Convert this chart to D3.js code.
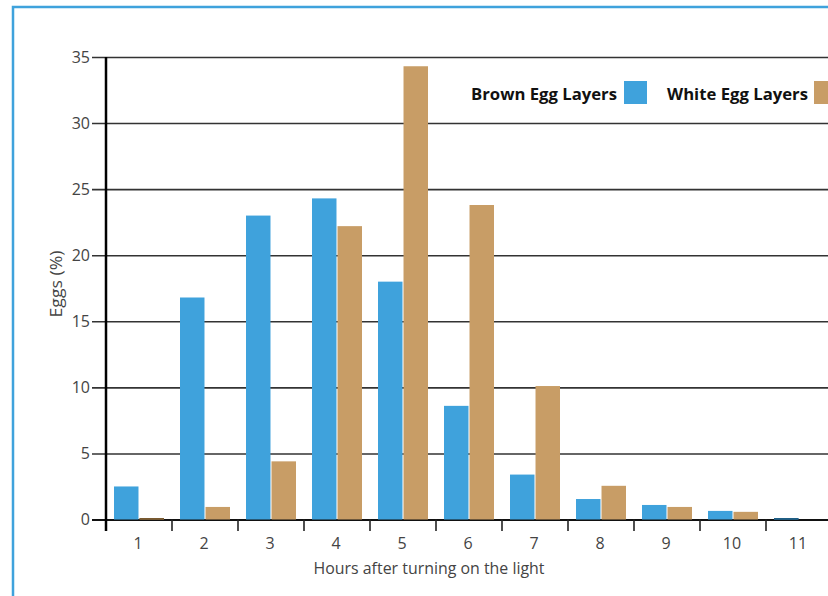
<!DOCTYPE html>
<html><head><meta charset="utf-8">
<script src="https://cdn.jsdelivr.net/npm/d3@7"></script>
<style>body{margin:0;background:#fff}svg{display:block}</style>
</head><body><svg id="c" width="828" height="596"></svg>
<script>
const hours = ["1","2","3","4","5","6","7","8","9","10","11"];
const brown = [2.5, 16.8, 23.0, 24.3, 18.0, 8.6, 3.4, 1.55, 1.1, 0.65, 0.1];
const white = [0.1, 0.95, 4.4, 22.2, 34.3, 23.8, 10.1, 2.55, 0.95, 0.58, 0];
const seriesNames = ["Brown Egg Layers", "White Egg Layers"];
const colors = ["#3fa2dc", "#c89d66"];
const yTicks = [0, 5, 10, 15, 20, 25, 30, 35];

(function () {
const svg = d3.select("#c");
const plotLeft = 106, plotTop = 57, plotBottom = 519.5, bandW = 66;
const font = "'Open Sans', 'Noto Sans', sans-serif";
const fs = 16, txt = "#444", fw = 400;

// frame
svg.append("path").attr("d", "M13,596 V7 H828").attr("fill", "none")
  .attr("stroke", "#3fa2dc").attr("stroke-width", 2.5);

const x = d3.scaleBand().domain(hours).range([plotLeft, plotLeft + bandW * hours.length]).paddingInner(0).paddingOuter(0);
const xs = d3.scaleBand().domain([0, 1]).range([8, bandW - 8]).paddingInner(2 / 50);
const y = d3.scaleLinear().domain([0, 35]).range([plotBottom, plotTop]);

// gridlines + y ticks
const yAxis = d3.axisLeft(y).tickValues(yTicks).tickSize(-(828 - plotLeft)).tickSizeOuter(0).tickPadding(4);
const gy = svg.append("g").attr("transform", `translate(${plotLeft},0)`).call(yAxis);
gy.select(".domain").remove();
gy.selectAll(".tick line").attr("x1", -14).attr("stroke", "#333").attr("stroke-width", 1.6);
gy.selectAll(".tick").filter(d => d === 0).select("line").attr("stroke", "#111").attr("stroke-width", 1.8);
gy.selectAll(".tick text").attr("x", -16).attr("font-family", font).attr("font-size", fs)
  .attr("fill", txt).attr("font-weight", fw);

// bars
const data = [brown, white];
data.forEach((vals, si) => {
  svg.append("g").selectAll("rect").data(vals).join("rect")
    .attr("x", (d, i) => x(hours[i]) + xs(si))
    .attr("width", xs.bandwidth())
    .attr("y", d => y(d))
    .attr("height", d => Math.max(0, plotBottom - y(d)))
    .attr("fill", colors[si]);
});
// tiny near-zero markers
const tiny = [];
data.forEach((vals, s) => vals.forEach((v, i) => { if (v > 0 && v < 0.2) tiny.push([s, i]); }));
svg.append("g").selectAll("rect").data(tiny).join("rect")
  .attr("x", ([s, i]) => x(hours[i]) + xs(s)).attr("width", xs.bandwidth())
  .attr("y", plotBottom - 1.5).attr("height", 1.5)
  .attr("fill", ([s]) => s === 0 ? "#1f5f86" : "#7a5a30");

// x axis ticks at band boundaries
const bounds = d3.range(hours.length + 1).map(i => plotLeft + i * bandW);
svg.append("g").selectAll("line").data(bounds.filter(b => b <= 828)).join("line")
  .attr("x1", d => d).attr("x2", d => d).attr("y1", plotBottom).attr("y2", 531)
  .attr("stroke", "#222").attr("stroke-width", 1.6);
svg.append("g").selectAll("text").data(hours).join("text")
  .attr("x", d => x(d) + bandW / 2 - 1).attr("y", 549)
  .attr("text-anchor", "middle").attr("font-family", font).attr("font-size", fs)
  .attr("font-weight", fw).attr("fill", txt).text(d => d);

// y axis line
svg.append("line").attr("x1", plotLeft).attr("x2", plotLeft).attr("y1", plotTop).attr("y2", 531)
  .attr("stroke", "#000").attr("stroke-width", 2.5);

// axis titles
svg.append("text").attr("x", 429).attr("y", 574).attr("text-anchor", "middle")
  .attr("textLength", 231).attr("lengthAdjust", "spacingAndGlyphs")
  .attr("font-family", font).attr("font-size", fs).attr("font-weight", fw).attr("fill", txt)
  .text("Hours after turning on the light");
svg.append("text").attr("transform", "translate(62,284) rotate(-90)").attr("text-anchor", "middle")
  .attr("textLength", 67).attr("lengthAdjust", "spacingAndGlyphs")
  .attr("font-family", font).attr("font-size", fs).attr("font-weight", fw).attr("fill", txt)
  .text("Eggs (%)");

// legend
const legX = [[471, 617, 624], [667, 808, 814]];
seriesNames.forEach((n, i) => {
  svg.append("text").attr("x", legX[i][0]).attr("y", 100)
    .attr("textLength", legX[i][1] - legX[i][0]).attr("lengthAdjust", "spacingAndGlyphs")
    .attr("font-family", font).attr("font-size", 15.5).attr("font-weight", 700).attr("fill", "#111")
    .text(n);
  svg.append("rect").attr("x", legX[i][2]).attr("y", 81).attr("width", 23).attr("height", 23).attr("fill", colors[i]);
});
})();
</script></body></html>
